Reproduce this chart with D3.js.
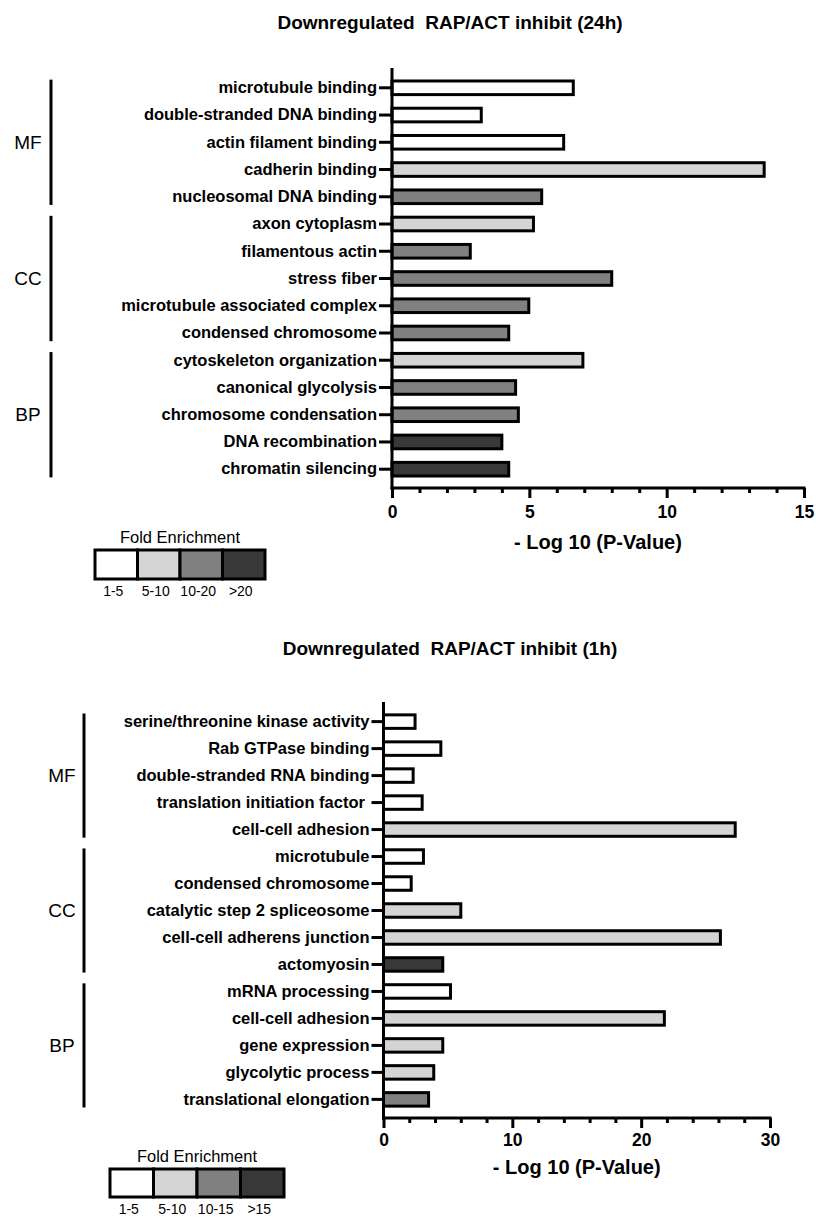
<!DOCTYPE html>
<html>
<head>
<meta charset="utf-8">
<script src="https://cdn.jsdelivr.net/npm/d3@7"></script>
<style>
  body { margin: 0; background: #fff; }
  svg { display: block; font-family: "Liberation Sans", Arial, sans-serif; }
</style>
</head>
<body>
<svg id="chart" width="816" height="1217"></svg>
<script>
// ---- data: 24h panel ----
const terms_24h = [
  'microtubule binding', 'double-stranded DNA binding', 'actin filament binding',
  'cadherin binding', 'nucleosomal DNA binding', 'axon cytoplasm', 'filamentous actin',
  'stress fiber', 'microtubule associated complex', 'condensed chromosome',
  'cytoskeleton organization', 'canonical glycolysis', 'chromosome condensation',
  'DNA recombination', 'chromatin silencing'
];
const values_24h = [6.6, 3.25, 6.25, 13.55, 5.45, 5.15, 2.85, 8.0, 4.98, 4.25, 6.95, 4.5, 4.6, 4.0, 4.25];
// fold enrichment class index: 0 = 1-5, 1 = 5-10, 2 = 10-20, 3 = >20
const fold_24h = [0, 0, 0, 1, 2, 1, 2, 2, 2, 2, 1, 2, 2, 3, 3];
const fold_labels_24h = ['1-5', '5-10', '10-20', '>20'];
const ticks_24h = [0, 5, 10, 15];
const minor_ticks_24h = [1, 2, 3, 4, 6, 7, 8, 9, 11, 12, 13, 14];

// ---- data: 1h panel ----
const terms_1h = [
  'serine/threonine kinase activity', 'Rab GTPase binding', 'double-stranded RNA binding',
  'translation initiation factor\u00a0', 'cell-cell adhesion', 'microtubule', 'condensed chromosome',
  'catalytic step 2 spliceosome', 'cell-cell adherens junction', 'actomyosin',
  'mRNA processing', 'cell-cell adhesion', 'gene expression', 'glycolytic process',
  'translational elongation'
];
const values_1h = [2.45, 4.45, 2.3, 3.0, 27.3, 3.1, 2.15, 6.0, 26.15, 4.6, 5.2, 21.8, 4.6, 3.9, 3.5];
// 0 = 1-5, 1 = 5-10, 2 = 10-15, 3 = >15
const fold_1h = [0, 0, 0, 0, 1, 0, 0, 1, 1, 3, 0, 1, 1, 1, 2];
const fold_labels_1h = ['1-5', '5-10', '10-15', '>15'];
const ticks_1h = [0, 10, 20, 30];
const minor_ticks_1h = [2, 4, 6, 8, 12, 14, 16, 18, 22, 24, 26, 28];

const groups = ['MF', 'CC', 'BP'];
const group_sizes = [5, 5, 5];
const fill_colors = ['#ffffff', '#d4d4d4', '#808080', '#383838'];

const svg = d3.select('#chart');

const draw_panel = function(cfg){
    const grp = svg.append('g');

    const x = d3.scaleLinear()
        .domain([0, cfg.ticks[cfg.ticks.length - 1]])
        .range([cfg.left, cfg.right]);

    const y = d3.scaleBand()
        .domain(cfg.terms.map((d, i) => i))
        .range([cfg.top, cfg.bottom])
        .paddingInner(0.5)
        .paddingOuter(0.44);

    // title
    grp.append('text')
        .attr('x', cfg.title_x)
        .attr('y', cfg.title_y)
        .attr('text-anchor', 'middle')
        .attr('dominant-baseline', 'central')
        .style('font-size', '19px')
        .style('font-weight', 'bold')
        .text(cfg.title);

    // bars
    grp.selectAll('rect.bar')
        .data(cfg.values)
        .enter()
    .append('rect')
        .attr('class', 'bar')
        .attr('x', x(0))
        .attr('y', (d, i) => y(i))
        .attr('width', d => x(d) - x(0))
        .attr('height', y.bandwidth())
        .attr('fill', (d, i) => fill_colors[cfg.fold[i]])
        .attr('stroke', '#000')
        .attr('stroke-width', 3);

    // y axis
    const y_axis = grp.append('g')
        .attr('transform', 'translate(' + x(0) + ',0)')
        .call(d3.axisLeft(y).tickSize(cfg.ytick).tickPadding(2).tickFormat(i => cfg.terms[i]));
    y_axis.select('.domain').remove();
    y_axis.selectAll('.tick line').attr('stroke', '#000').attr('stroke-width', 3);
    y_axis.selectAll('.tick text')
        .attr('fill', '#000')
        .style('font-size', '16.5px')
        .style('font-weight', 'bold')
        .style('font-family', '"Liberation Sans", Arial, sans-serif');

    grp.append('path')
        .attr('d', `M${x(0)},${cfg.axis_top}V${cfg.bottom + 1.5}`)
        .attr('stroke', '#000')
        .attr('stroke-width', 3)
        .attr('fill', 'none');

    // x axis
    const x_minor = grp.append('g')
        .attr('transform', 'translate(0,' + cfg.bottom + ')')
        .call(d3.axisBottom(x).tickValues(cfg.minor).tickSize(5).tickFormat(''));
    x_minor.select('.domain').remove();
    x_minor.selectAll('.tick line').attr('stroke', '#000').attr('stroke-width', 3);

    const x_axis = grp.append('g')
        .attr('transform', 'translate(0,' + cfg.bottom + ')')
        .call(d3.axisBottom(x).tickValues(cfg.ticks).tickSize(10).tickPadding(cfg.xpad));
    x_axis.select('.domain').remove();
    x_axis.selectAll('.tick line').attr('stroke', '#000').attr('stroke-width', 3);
    x_axis.selectAll('.tick text')
        .attr('fill', '#000')
        .style('font-size', '17.5px')
        .style('font-weight', 'bold')
        .style('font-family', '"Liberation Sans", Arial, sans-serif');

    grp.append('path')
        .attr('d', `M${x(0) - 1.5},${cfg.bottom}H${x.range()[1] + 1.5}`)
        .attr('stroke', '#000')
        .attr('stroke-width', 3)
        .attr('fill', 'none');

    grp.append('text')
        .attr('x', (x.range()[0] + x.range()[1]) / 2)
        .attr('y', cfg.xlabel_y)
        .attr('text-anchor', 'middle')
        .attr('dominant-baseline', 'central')
        .style('font-size', '20px')
        .style('font-weight', 'bold')
        .text('- Log 10 (P-Value)');

    // group brackets
    let start = 0;
    groups.forEach(function(name, gi){
        const first = start, last = start + group_sizes[gi] - 1;
        const y0 = y(first) + y.bandwidth() / 2 - y.step() * 0.3;
        const y1 = y(last) + y.bandwidth() / 2 + y.step() * 0.3;
        grp.append('path')
            .attr('d', `M${cfg.bracket_x},${y0}V${y1}`)
            .attr('stroke', '#000')
            .attr('stroke-width', 3);
        grp.append('text')
            .attr('x', cfg.group_x)
            .attr('y', (y0 + y1) / 2)
            .attr('text-anchor', 'middle')
            .attr('dominant-baseline', 'central')
            .style('font-size', '19px')
            .text(name);
        start = last + 1;
    });

    // legend
    const lg = cfg.legend;
    grp.append('text')
        .attr('x', lg.x + lg.w * 2)
        .attr('y', lg.y - 13)
        .attr('text-anchor', 'middle')
        .attr('dominant-baseline', 'central')
        .style('font-size', '16.5px')
        .text('Fold Enrichment');
    grp.selectAll('rect.legend')
        .data(fill_colors)
        .enter()
    .append('rect')
        .attr('class', 'legend')
        .attr('x', (d, i) => lg.x + i * lg.w)
        .attr('y', lg.y)
        .attr('width', lg.w)
        .attr('height', lg.h)
        .attr('fill', d => d)
        .attr('stroke', '#000')
        .attr('stroke-width', 3);
    grp.selectAll('text.legend')
        .data(cfg.fold_labels)
        .enter()
    .append('text')
        .attr('class', 'legend')
        .attr('x', (d, i) => lg.x + i * lg.w + lg.w / 2 - 3)
        .attr('y', lg.y + lg.h + 12)
        .attr('text-anchor', 'middle')
        .attr('dominant-baseline', 'central')
        .style('font-size', '14px')
        .text(d => d);
};

draw_panel({
    title: 'Downregulated\u00a0 RAP/ACT inhibit (24h)',
    title_x: 450, title_y: 22,
    terms: terms_24h, values: values_24h, fold: fold_24h, fold_labels: fold_labels_24h,
    ticks: ticks_24h, minor: minor_ticks_24h,
    left: 392, right: 804, axis_top: 68, top: 69, bottom: 488,
    ytick: 13, xpad: 8, xlabel_y: 542,
    bracket_x: 51, group_x: 28,
    legend: {x: 95, y: 550, w: 42.5, h: 29}
});

draw_panel({
    title: 'Downregulated\u00a0 RAP/ACT inhibit (1h)',
    title_x: 450, title_y: 648,
    terms: terms_1h, values: values_1h, fold: fold_1h, fold_labels: fold_labels_1h,
    ticks: ticks_1h, minor: minor_ticks_1h,
    left: 383.5, right: 770, axis_top: 702, top: 703, bottom: 1118,
    ytick: 12, xpad: 6, xlabel_y: 1167,
    bracket_x: 84, group_x: 62,
    legend: {x: 110, y: 1169, w: 43.5, h: 28}
});
</script>
</body>
</html>
